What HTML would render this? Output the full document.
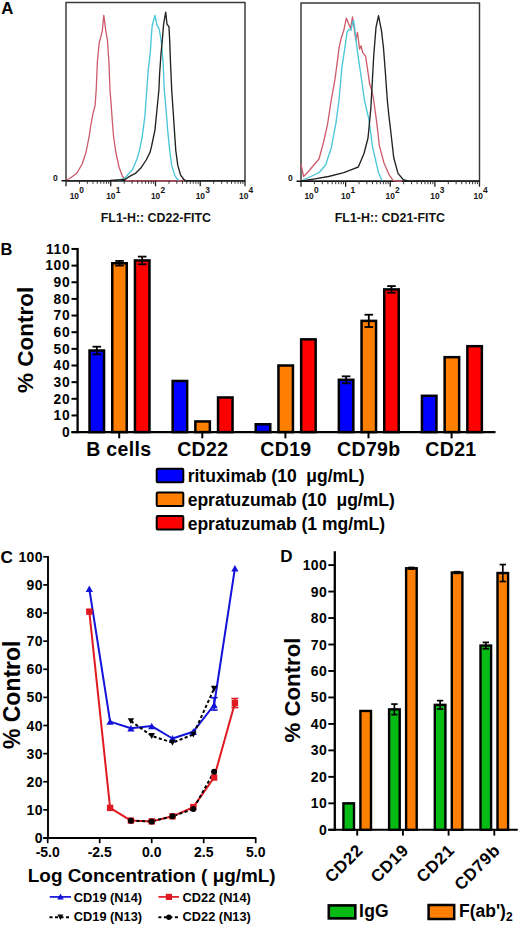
<!DOCTYPE html>
<html><head><meta charset="utf-8"><title>Figure</title>
<style>
html,body{margin:0;padding:0;background:#fff;}
body{width:520px;height:926px;overflow:hidden;}
svg{display:block;font-family:"Liberation Sans", sans-serif;}
</style></head>
<body>
<svg width="520" height="926" viewBox="0 0 520 926" font-family='"Liberation Sans", sans-serif'>
<rect width="520" height="926" fill="#fff"/>
<text x="1.2" y="14.0" font-size="16.8" font-weight="bold">A</text>
<rect x="66" y="2.5" width="179.0" height="178.3" fill="none" stroke="#383838" stroke-width="1.45" stroke-linejoin="round"/>
<line x1="61.5" y1="180.8" x2="245.0" y2="180.8" stroke="#111" stroke-width="1.6"/>
<polyline points="66.0,180.5 70.8,177.7 77.0,173.0 82.3,163.8 86.2,151.5 89.2,136.0 90.8,125.4 93.1,113.0 95.1,105.4 96.2,90.0 97.4,61.5 99.2,43.0 100.8,36.9 102.3,30.8 103.8,15.4 105.8,30.8 107.4,40.0 108.9,61.5 110.0,90.0 111.2,105.4 112.3,120.8 113.5,136.0 115.7,151.5 119.0,167.0 122.3,176.0 126.0,180.3 130.0,180.8 184.0,180.8" fill="none" stroke="#cc5a6a" stroke-width="1.3" stroke-linejoin="round"/>
<polyline points="118.0,180.5 124.6,178.5 130.0,172.1 132.3,170.0 135.4,162.7 137.0,159.0 139.4,150.6 142.1,137.1 144.8,116.9 146.8,90.0 148.2,70.0 150.2,53.8 151.5,33.6 152.2,25.6 154.9,15.5 156.9,24.9 158.9,28.3 160.3,35.0 161.6,44.4 163.0,60.6 164.3,90.0 166.1,110.2 167.7,130.4 169.7,150.6 171.7,165.4 175.1,176.1 178.5,180.5" fill="none" stroke="#4cc6d8" stroke-width="1.35" stroke-linejoin="round"/>
<polyline points="66.0,180.6 110.0,180.5 125.0,179.5 130.0,176.1 135.4,173.4 140.8,168.1 146.2,160.0 150.2,151.9 151.5,146.5 154.9,130.4 156.9,110.2 158.9,90.0 159.6,74.0 161.0,53.8 162.3,40.4 163.6,24.2 165.7,12.1 167.0,24.2 169.0,26.9 169.7,40.4 170.4,60.6 171.7,90.0 173.1,110.2 174.4,130.4 175.8,150.6 177.8,165.4 180.5,174.8 183.8,179.5 186.0,180.6 245.0,180.6" fill="none" stroke="#222222" stroke-width="1.35" stroke-linejoin="round"/>
<line x1="66" y1="180.8" x2="66" y2="186.3" stroke="#222" stroke-width="1.3"/>
<line x1="79.47" y1="180.8" x2="79.47" y2="183.8" stroke="#333" stroke-width="1"/>
<line x1="87.35" y1="180.8" x2="87.35" y2="183.8" stroke="#333" stroke-width="1"/>
<line x1="92.94" y1="180.8" x2="92.94" y2="183.8" stroke="#333" stroke-width="1"/>
<line x1="97.28" y1="180.8" x2="97.28" y2="183.8" stroke="#333" stroke-width="1"/>
<line x1="100.82" y1="180.8" x2="100.82" y2="183.8" stroke="#333" stroke-width="1"/>
<line x1="103.82" y1="180.8" x2="103.82" y2="183.8" stroke="#333" stroke-width="1"/>
<line x1="106.41" y1="180.8" x2="106.41" y2="183.8" stroke="#333" stroke-width="1"/>
<line x1="108.70" y1="180.8" x2="108.70" y2="183.8" stroke="#333" stroke-width="1"/>
<line x1="110.75" y1="180.8" x2="110.75" y2="186.3" stroke="#222" stroke-width="1.3"/>
<line x1="124.22" y1="180.8" x2="124.22" y2="183.8" stroke="#333" stroke-width="1"/>
<line x1="132.10" y1="180.8" x2="132.10" y2="183.8" stroke="#333" stroke-width="1"/>
<line x1="137.69" y1="180.8" x2="137.69" y2="183.8" stroke="#333" stroke-width="1"/>
<line x1="142.03" y1="180.8" x2="142.03" y2="183.8" stroke="#333" stroke-width="1"/>
<line x1="145.57" y1="180.8" x2="145.57" y2="183.8" stroke="#333" stroke-width="1"/>
<line x1="148.57" y1="180.8" x2="148.57" y2="183.8" stroke="#333" stroke-width="1"/>
<line x1="151.16" y1="180.8" x2="151.16" y2="183.8" stroke="#333" stroke-width="1"/>
<line x1="153.45" y1="180.8" x2="153.45" y2="183.8" stroke="#333" stroke-width="1"/>
<line x1="155.50" y1="180.8" x2="155.50" y2="186.3" stroke="#222" stroke-width="1.3"/>
<line x1="168.97" y1="180.8" x2="168.97" y2="183.8" stroke="#333" stroke-width="1"/>
<line x1="176.85" y1="180.8" x2="176.85" y2="183.8" stroke="#333" stroke-width="1"/>
<line x1="182.44" y1="180.8" x2="182.44" y2="183.8" stroke="#333" stroke-width="1"/>
<line x1="186.78" y1="180.8" x2="186.78" y2="183.8" stroke="#333" stroke-width="1"/>
<line x1="190.32" y1="180.8" x2="190.32" y2="183.8" stroke="#333" stroke-width="1"/>
<line x1="193.32" y1="180.8" x2="193.32" y2="183.8" stroke="#333" stroke-width="1"/>
<line x1="195.91" y1="180.8" x2="195.91" y2="183.8" stroke="#333" stroke-width="1"/>
<line x1="198.20" y1="180.8" x2="198.20" y2="183.8" stroke="#333" stroke-width="1"/>
<line x1="200.25" y1="180.8" x2="200.25" y2="186.3" stroke="#222" stroke-width="1.3"/>
<line x1="213.72" y1="180.8" x2="213.72" y2="183.8" stroke="#333" stroke-width="1"/>
<line x1="221.60" y1="180.8" x2="221.60" y2="183.8" stroke="#333" stroke-width="1"/>
<line x1="227.19" y1="180.8" x2="227.19" y2="183.8" stroke="#333" stroke-width="1"/>
<line x1="231.53" y1="180.8" x2="231.53" y2="183.8" stroke="#333" stroke-width="1"/>
<line x1="235.07" y1="180.8" x2="235.07" y2="183.8" stroke="#333" stroke-width="1"/>
<line x1="238.07" y1="180.8" x2="238.07" y2="183.8" stroke="#333" stroke-width="1"/>
<line x1="240.66" y1="180.8" x2="240.66" y2="183.8" stroke="#333" stroke-width="1"/>
<line x1="242.95" y1="180.8" x2="242.95" y2="183.8" stroke="#333" stroke-width="1"/>
<line x1="245.00" y1="180.8" x2="245.00" y2="186.3" stroke="#222" stroke-width="1.3"/>
<text x="69.7" y="198.9" font-size="8.4" font-weight="bold" fill="#151515">10</text>
<text x="79.2" y="192.6" font-size="8.4" font-weight="bold" fill="#151515">0</text>
<text x="106.2" y="198.9" font-size="8.4" font-weight="bold" fill="#151515">10</text>
<text x="115.7" y="192.6" font-size="8.4" font-weight="bold" fill="#151515">1</text>
<text x="150.9" y="198.9" font-size="8.4" font-weight="bold" fill="#151515">10</text>
<text x="160.4" y="192.6" font-size="8.4" font-weight="bold" fill="#151515">2</text>
<text x="195.7" y="198.9" font-size="8.4" font-weight="bold" fill="#151515">10</text>
<text x="205.2" y="192.6" font-size="8.4" font-weight="bold" fill="#151515">3</text>
<text x="239.1" y="198.9" font-size="8.4" font-weight="bold" fill="#151515">10</text>
<text x="248.6" y="192.6" font-size="8.4" font-weight="bold" fill="#151515">4</text>
<text x="52.9" y="180.9" font-size="8.5" font-weight="bold" fill="#151515">0</text>
<text x="100.8" y="221.5" font-size="12.4" font-weight="bold" fill="#111">FL1-H:: CD22-FITC</text>
<rect x="301" y="2.9" width="178.5" height="178.29999999999998" fill="none" stroke="#383838" stroke-width="1.45" stroke-linejoin="round"/>
<line x1="296.5" y1="181.2" x2="479.5" y2="181.2" stroke="#111" stroke-width="1.6"/>
<polyline points="301.0,164.0 303.5,176.5 308.0,172.0 313.0,166.0 319.0,159.0 323.6,142.0 327.5,124.6 331.0,101.5 335.0,79.2 337.3,61.9 339.0,48.1 341.3,37.7 343.7,30.8 346.3,18.1 350.6,28.5 352.5,16.9 355.8,40.0 357.5,32.5 359.6,49.2 361.0,45.8 362.7,52.7 365.6,56.2 367.3,67.7 369.6,83.8 371.9,90.8 373.7,100.0 376.5,120.8 379.4,145.8 384.0,163.0 389.0,174.6 393.0,180.3 396.0,181.2 402.0,181.2" fill="none" stroke="#cc5a6a" stroke-width="1.3" stroke-linejoin="round"/>
<polyline points="303.0,180.0 305.0,179.0 312.0,176.0 319.0,172.7 325.6,165.0 331.3,147.7 336.0,122.7 339.0,100.0 341.9,67.7 344.8,48.1 347.1,31.9 348.8,29.6 350.9,30.2 352.3,23.8 353.5,20.4 354.6,27.3 356.3,42.3 358.1,56.2 359.8,67.7 361.5,79.2 364.4,100.0 368.8,118.8 372.7,147.7 378.5,172.7 382.0,180.5" fill="none" stroke="#4cc6d8" stroke-width="1.35" stroke-linejoin="round"/>
<polyline points="301.0,181.0 305.0,180.5 315.0,178.8 328.5,176.5 343.8,172.7 353.5,168.8 358.3,167.0 364.0,153.5 368.0,138.0 370.8,109.0 373.7,56.2 376.0,27.3 378.5,15.6 381.5,30.8 383.5,48.0 385.4,73.0 387.3,100.0 388.8,115.0 390.6,130.0 393.7,157.5 398.0,173.4 403.3,179.7 408.0,181.0 479.5,181.2" fill="none" stroke="#222222" stroke-width="1.35" stroke-linejoin="round"/>
<line x1="301" y1="181.2" x2="301" y2="186.7" stroke="#222" stroke-width="1.3"/>
<line x1="314.43" y1="181.2" x2="314.43" y2="184.2" stroke="#333" stroke-width="1"/>
<line x1="322.29" y1="181.2" x2="322.29" y2="184.2" stroke="#333" stroke-width="1"/>
<line x1="327.87" y1="181.2" x2="327.87" y2="184.2" stroke="#333" stroke-width="1"/>
<line x1="332.19" y1="181.2" x2="332.19" y2="184.2" stroke="#333" stroke-width="1"/>
<line x1="335.72" y1="181.2" x2="335.72" y2="184.2" stroke="#333" stroke-width="1"/>
<line x1="338.71" y1="181.2" x2="338.71" y2="184.2" stroke="#333" stroke-width="1"/>
<line x1="341.30" y1="181.2" x2="341.30" y2="184.2" stroke="#333" stroke-width="1"/>
<line x1="343.58" y1="181.2" x2="343.58" y2="184.2" stroke="#333" stroke-width="1"/>
<line x1="345.62" y1="181.2" x2="345.62" y2="186.7" stroke="#222" stroke-width="1.3"/>
<line x1="359.06" y1="181.2" x2="359.06" y2="184.2" stroke="#333" stroke-width="1"/>
<line x1="366.92" y1="181.2" x2="366.92" y2="184.2" stroke="#333" stroke-width="1"/>
<line x1="372.49" y1="181.2" x2="372.49" y2="184.2" stroke="#333" stroke-width="1"/>
<line x1="376.82" y1="181.2" x2="376.82" y2="184.2" stroke="#333" stroke-width="1"/>
<line x1="380.35" y1="181.2" x2="380.35" y2="184.2" stroke="#333" stroke-width="1"/>
<line x1="383.34" y1="181.2" x2="383.34" y2="184.2" stroke="#333" stroke-width="1"/>
<line x1="385.93" y1="181.2" x2="385.93" y2="184.2" stroke="#333" stroke-width="1"/>
<line x1="388.21" y1="181.2" x2="388.21" y2="184.2" stroke="#333" stroke-width="1"/>
<line x1="390.25" y1="181.2" x2="390.25" y2="186.7" stroke="#222" stroke-width="1.3"/>
<line x1="403.68" y1="181.2" x2="403.68" y2="184.2" stroke="#333" stroke-width="1"/>
<line x1="411.54" y1="181.2" x2="411.54" y2="184.2" stroke="#333" stroke-width="1"/>
<line x1="417.12" y1="181.2" x2="417.12" y2="184.2" stroke="#333" stroke-width="1"/>
<line x1="421.44" y1="181.2" x2="421.44" y2="184.2" stroke="#333" stroke-width="1"/>
<line x1="424.97" y1="181.2" x2="424.97" y2="184.2" stroke="#333" stroke-width="1"/>
<line x1="427.96" y1="181.2" x2="427.96" y2="184.2" stroke="#333" stroke-width="1"/>
<line x1="430.55" y1="181.2" x2="430.55" y2="184.2" stroke="#333" stroke-width="1"/>
<line x1="432.83" y1="181.2" x2="432.83" y2="184.2" stroke="#333" stroke-width="1"/>
<line x1="434.88" y1="181.2" x2="434.88" y2="186.7" stroke="#222" stroke-width="1.3"/>
<line x1="448.31" y1="181.2" x2="448.31" y2="184.2" stroke="#333" stroke-width="1"/>
<line x1="456.17" y1="181.2" x2="456.17" y2="184.2" stroke="#333" stroke-width="1"/>
<line x1="461.74" y1="181.2" x2="461.74" y2="184.2" stroke="#333" stroke-width="1"/>
<line x1="466.07" y1="181.2" x2="466.07" y2="184.2" stroke="#333" stroke-width="1"/>
<line x1="469.60" y1="181.2" x2="469.60" y2="184.2" stroke="#333" stroke-width="1"/>
<line x1="472.59" y1="181.2" x2="472.59" y2="184.2" stroke="#333" stroke-width="1"/>
<line x1="475.18" y1="181.2" x2="475.18" y2="184.2" stroke="#333" stroke-width="1"/>
<line x1="477.46" y1="181.2" x2="477.46" y2="184.2" stroke="#333" stroke-width="1"/>
<line x1="479.50" y1="181.2" x2="479.50" y2="186.7" stroke="#222" stroke-width="1.3"/>
<text x="304.4" y="198.9" font-size="8.4" font-weight="bold" fill="#151515">10</text>
<text x="313.9" y="192.6" font-size="8.4" font-weight="bold" fill="#151515">0</text>
<text x="341.0" y="198.9" font-size="8.4" font-weight="bold" fill="#151515">10</text>
<text x="350.5" y="192.6" font-size="8.4" font-weight="bold" fill="#151515">1</text>
<text x="385.6" y="198.9" font-size="8.4" font-weight="bold" fill="#151515">10</text>
<text x="395.1" y="192.6" font-size="8.4" font-weight="bold" fill="#151515">2</text>
<text x="430.3" y="198.9" font-size="8.4" font-weight="bold" fill="#151515">10</text>
<text x="439.8" y="192.6" font-size="8.4" font-weight="bold" fill="#151515">3</text>
<text x="473.6" y="198.9" font-size="8.4" font-weight="bold" fill="#151515">10</text>
<text x="483.1" y="192.6" font-size="8.4" font-weight="bold" fill="#151515">4</text>
<text x="288.0" y="180.9" font-size="8.5" font-weight="bold" fill="#151515">0</text>
<text x="334.8" y="221.5" font-size="12.4" font-weight="bold" fill="#111">FL1-H:: CD21-FITC</text>
<text x="0.4" y="255.2" font-size="16.5" font-weight="bold">B</text>
<line x1="77.6" y1="247.95" x2="77.6" y2="433.20000000000005" stroke="#000" stroke-width="2.3"/>
<line x1="71.5" y1="432.1" x2="495.5" y2="432.1" stroke="#000" stroke-width="2.3"/>
<line x1="71.5" y1="432.10" x2="77.6" y2="432.10" stroke="#000" stroke-width="2.0"/>
<text x="70.3" y="436.90" font-size="13.8" font-weight="bold" letter-spacing="0.7" text-anchor="end">0</text>
<line x1="71.5" y1="415.45" x2="77.6" y2="415.45" stroke="#000" stroke-width="2.0"/>
<text x="70.3" y="420.25" font-size="13.8" font-weight="bold" letter-spacing="0.7" text-anchor="end">10</text>
<line x1="71.5" y1="398.80" x2="77.6" y2="398.80" stroke="#000" stroke-width="2.0"/>
<text x="70.3" y="403.60" font-size="13.8" font-weight="bold" letter-spacing="0.7" text-anchor="end">20</text>
<line x1="71.5" y1="382.15" x2="77.6" y2="382.15" stroke="#000" stroke-width="2.0"/>
<text x="70.3" y="386.95" font-size="13.8" font-weight="bold" letter-spacing="0.7" text-anchor="end">30</text>
<line x1="71.5" y1="365.50" x2="77.6" y2="365.50" stroke="#000" stroke-width="2.0"/>
<text x="70.3" y="370.30" font-size="13.8" font-weight="bold" letter-spacing="0.7" text-anchor="end">40</text>
<line x1="71.5" y1="348.85" x2="77.6" y2="348.85" stroke="#000" stroke-width="2.0"/>
<text x="70.3" y="353.65" font-size="13.8" font-weight="bold" letter-spacing="0.7" text-anchor="end">50</text>
<line x1="71.5" y1="332.20" x2="77.6" y2="332.20" stroke="#000" stroke-width="2.0"/>
<text x="70.3" y="337.00" font-size="13.8" font-weight="bold" letter-spacing="0.7" text-anchor="end">60</text>
<line x1="71.5" y1="315.55" x2="77.6" y2="315.55" stroke="#000" stroke-width="2.0"/>
<text x="70.3" y="320.35" font-size="13.8" font-weight="bold" letter-spacing="0.7" text-anchor="end">70</text>
<line x1="71.5" y1="298.90" x2="77.6" y2="298.90" stroke="#000" stroke-width="2.0"/>
<text x="70.3" y="303.70" font-size="13.8" font-weight="bold" letter-spacing="0.7" text-anchor="end">80</text>
<line x1="71.5" y1="282.25" x2="77.6" y2="282.25" stroke="#000" stroke-width="2.0"/>
<text x="70.3" y="287.05" font-size="13.8" font-weight="bold" letter-spacing="0.7" text-anchor="end">90</text>
<line x1="71.5" y1="265.60" x2="77.6" y2="265.60" stroke="#000" stroke-width="2.0"/>
<text x="70.3" y="270.40" font-size="13.8" font-weight="bold" letter-spacing="0.7" text-anchor="end">100</text>
<line x1="71.5" y1="248.95" x2="77.6" y2="248.95" stroke="#000" stroke-width="2.0"/>
<text x="70.3" y="253.75" font-size="13.8" font-weight="bold" letter-spacing="0.7" text-anchor="end">110</text>
<text transform="translate(33.4,339.8) rotate(-90)" x="0" y="0" font-size="22.5" font-weight="bold" text-anchor="middle">% Control</text>
<line x1="119.2" y1="432.1" x2="119.2" y2="438.3" stroke="#000" stroke-width="2.0"/>
<text x="118.80" y="455.6" font-size="19.5" font-weight="bold" letter-spacing="0.35" text-anchor="middle">B cells</text>
<rect x="89.55" y="350.51" width="14.5" height="81.59" fill="#0000ff" stroke="#000" stroke-width="2.5"/>
<line x1="96.80000000000001" y1="346.69" x2="96.80000000000001" y2="354.34" stroke="#000" stroke-width="1.8"/>
<line x1="92.50" y1="346.69" x2="101.10" y2="346.69" stroke="#000" stroke-width="1.8"/>
<line x1="92.50" y1="354.34" x2="101.10" y2="354.34" stroke="#000" stroke-width="1.8"/>
<rect x="112.25" y="263.27" width="14.5" height="168.83" fill="#ff8000" stroke="#000" stroke-width="2.5"/>
<line x1="119.5" y1="260.94" x2="119.5" y2="265.60" stroke="#000" stroke-width="1.8"/>
<line x1="115.20" y1="260.94" x2="123.80" y2="260.94" stroke="#000" stroke-width="1.8"/>
<line x1="115.20" y1="265.60" x2="123.80" y2="265.60" stroke="#000" stroke-width="1.8"/>
<rect x="134.95" y="260.44" width="14.5" height="171.66" fill="#ff0000" stroke="#000" stroke-width="2.5"/>
<line x1="142.2" y1="256.61" x2="142.2" y2="264.27" stroke="#000" stroke-width="1.8"/>
<line x1="137.90" y1="256.61" x2="146.50" y2="256.61" stroke="#000" stroke-width="1.8"/>
<line x1="137.90" y1="264.27" x2="146.50" y2="264.27" stroke="#000" stroke-width="1.8"/>
<line x1="202.3" y1="432.1" x2="202.3" y2="438.3" stroke="#000" stroke-width="2.0"/>
<text x="202.80" y="455.6" font-size="19.5" font-weight="bold" letter-spacing="0.35" text-anchor="middle">CD22</text>
<rect x="172.65" y="380.98" width="14.5" height="51.12" fill="#0000ff" stroke="#000" stroke-width="2.5"/>
<rect x="195.35" y="421.44" width="14.5" height="10.66" fill="#ff8000" stroke="#000" stroke-width="2.5"/>
<rect x="218.05" y="397.47" width="14.5" height="34.63" fill="#ff0000" stroke="#000" stroke-width="2.5"/>
<line x1="285.4" y1="432.1" x2="285.4" y2="438.3" stroke="#000" stroke-width="2.0"/>
<text x="285.90" y="455.6" font-size="19.5" font-weight="bold" letter-spacing="0.35" text-anchor="middle">CD19</text>
<rect x="255.75" y="424.27" width="14.5" height="7.83" fill="#0000ff" stroke="#000" stroke-width="2.5"/>
<rect x="278.45" y="365.50" width="14.5" height="66.60" fill="#ff8000" stroke="#000" stroke-width="2.5"/>
<rect x="301.15" y="339.36" width="14.5" height="92.74" fill="#ff0000" stroke="#000" stroke-width="2.5"/>
<line x1="368.5" y1="432.1" x2="368.5" y2="438.3" stroke="#000" stroke-width="2.0"/>
<text x="368.80" y="455.6" font-size="19.5" font-weight="bold" letter-spacing="0.35" text-anchor="middle">CD79b</text>
<rect x="338.85" y="379.82" width="14.5" height="52.28" fill="#0000ff" stroke="#000" stroke-width="2.5"/>
<line x1="346.1" y1="376.32" x2="346.1" y2="383.32" stroke="#000" stroke-width="1.8"/>
<line x1="341.80" y1="376.32" x2="350.40" y2="376.32" stroke="#000" stroke-width="1.8"/>
<line x1="341.80" y1="383.32" x2="350.40" y2="383.32" stroke="#000" stroke-width="1.8"/>
<rect x="361.55" y="320.88" width="14.5" height="111.22" fill="#ff8000" stroke="#000" stroke-width="2.5"/>
<line x1="368.8" y1="314.72" x2="368.8" y2="327.04" stroke="#000" stroke-width="1.8"/>
<line x1="364.50" y1="314.72" x2="373.10" y2="314.72" stroke="#000" stroke-width="1.8"/>
<line x1="364.50" y1="327.04" x2="373.10" y2="327.04" stroke="#000" stroke-width="1.8"/>
<rect x="384.25" y="289.41" width="14.5" height="142.69" fill="#ff0000" stroke="#000" stroke-width="2.5"/>
<line x1="391.5" y1="286.08" x2="391.5" y2="292.74" stroke="#000" stroke-width="1.8"/>
<line x1="387.20" y1="286.08" x2="395.80" y2="286.08" stroke="#000" stroke-width="1.8"/>
<line x1="387.20" y1="292.74" x2="395.80" y2="292.74" stroke="#000" stroke-width="1.8"/>
<line x1="451.6" y1="432.1" x2="451.6" y2="438.3" stroke="#000" stroke-width="2.0"/>
<text x="450.90" y="455.6" font-size="19.5" font-weight="bold" letter-spacing="0.35" text-anchor="middle">CD21</text>
<rect x="421.95" y="395.80" width="14.5" height="36.30" fill="#0000ff" stroke="#000" stroke-width="2.5"/>
<rect x="444.65" y="357.18" width="14.5" height="74.93" fill="#ff8000" stroke="#000" stroke-width="2.5"/>
<rect x="467.35" y="346.19" width="14.5" height="85.91" fill="#ff0000" stroke="#000" stroke-width="2.5"/>
<rect x="156.7" y="468.80" width="26.6" height="13.4" rx="1" fill="#0000ff" stroke="#000" stroke-width="2.0"/>
<text x="187.7" y="481.90" font-size="17.5" font-weight="bold">rituximab (10 &#160;&#956;g/mL)</text>
<rect x="156.7" y="492.60" width="26.6" height="13.4" rx="1" fill="#ff8000" stroke="#000" stroke-width="2.0"/>
<text x="187.7" y="506.00" font-size="17.5" font-weight="bold">epratuzumab (10 &#160;&#956;g/mL)</text>
<rect x="156.7" y="516.00" width="26.6" height="13.4" rx="1" fill="#ff0000" stroke="#000" stroke-width="2.0"/>
<text x="187.7" y="529.60" font-size="17.5" font-weight="bold">epratuzumab (1 mg/mL)</text>
<text x="0.5" y="563" font-size="17.2" font-weight="bold">C</text>
<line x1="48" y1="555.90" x2="48" y2="838.9" stroke="#000" stroke-width="1.9"/>
<line x1="43.3" y1="838.0" x2="256.3" y2="838.0" stroke="#000" stroke-width="1.9"/>
<line x1="43.3" y1="838.00" x2="48" y2="838.00" stroke="#000" stroke-width="1.7"/>
<text x="42.8" y="843.00" font-size="14" font-weight="bold" letter-spacing="0.3" text-anchor="end">0</text>
<line x1="43.3" y1="809.88" x2="48" y2="809.88" stroke="#000" stroke-width="1.7"/>
<text x="42.8" y="814.88" font-size="14" font-weight="bold" letter-spacing="0.3" text-anchor="end">10</text>
<line x1="43.3" y1="781.76" x2="48" y2="781.76" stroke="#000" stroke-width="1.7"/>
<text x="42.8" y="786.76" font-size="14" font-weight="bold" letter-spacing="0.3" text-anchor="end">20</text>
<line x1="43.3" y1="753.64" x2="48" y2="753.64" stroke="#000" stroke-width="1.7"/>
<text x="42.8" y="758.64" font-size="14" font-weight="bold" letter-spacing="0.3" text-anchor="end">30</text>
<line x1="43.3" y1="725.52" x2="48" y2="725.52" stroke="#000" stroke-width="1.7"/>
<text x="42.8" y="730.52" font-size="14" font-weight="bold" letter-spacing="0.3" text-anchor="end">40</text>
<line x1="43.3" y1="697.40" x2="48" y2="697.40" stroke="#000" stroke-width="1.7"/>
<text x="42.8" y="702.40" font-size="14" font-weight="bold" letter-spacing="0.3" text-anchor="end">50</text>
<line x1="43.3" y1="669.28" x2="48" y2="669.28" stroke="#000" stroke-width="1.7"/>
<text x="42.8" y="674.28" font-size="14" font-weight="bold" letter-spacing="0.3" text-anchor="end">60</text>
<line x1="43.3" y1="641.16" x2="48" y2="641.16" stroke="#000" stroke-width="1.7"/>
<text x="42.8" y="646.16" font-size="14" font-weight="bold" letter-spacing="0.3" text-anchor="end">70</text>
<line x1="43.3" y1="613.04" x2="48" y2="613.04" stroke="#000" stroke-width="1.7"/>
<text x="42.8" y="618.04" font-size="14" font-weight="bold" letter-spacing="0.3" text-anchor="end">80</text>
<line x1="43.3" y1="584.92" x2="48" y2="584.92" stroke="#000" stroke-width="1.7"/>
<text x="42.8" y="589.92" font-size="14" font-weight="bold" letter-spacing="0.3" text-anchor="end">90</text>
<line x1="43.3" y1="556.80" x2="48" y2="556.80" stroke="#000" stroke-width="1.7"/>
<text x="42.8" y="561.80" font-size="14" font-weight="bold" letter-spacing="0.3" text-anchor="end">100</text>
<line x1="47.70" y1="838.0" x2="47.70" y2="843.2" stroke="#000" stroke-width="1.7"/>
<text x="47.70" y="857.3" font-size="14" font-weight="bold" text-anchor="middle">-5.0</text>
<line x1="99.70" y1="838.0" x2="99.70" y2="843.2" stroke="#000" stroke-width="1.7"/>
<text x="99.70" y="857.3" font-size="14" font-weight="bold" text-anchor="middle">-2.5</text>
<line x1="151.70" y1="838.0" x2="151.70" y2="843.2" stroke="#000" stroke-width="1.7"/>
<text x="151.70" y="857.3" font-size="14" font-weight="bold" text-anchor="middle">0.0</text>
<line x1="203.70" y1="838.0" x2="203.70" y2="843.2" stroke="#000" stroke-width="1.7"/>
<text x="203.70" y="857.3" font-size="14" font-weight="bold" text-anchor="middle">2.5</text>
<line x1="255.70" y1="838.0" x2="255.70" y2="843.2" stroke="#000" stroke-width="1.7"/>
<text x="255.70" y="857.3" font-size="14" font-weight="bold" text-anchor="middle">5.0</text>
<text transform="translate(19.8,694.8) rotate(-90)" font-size="23" font-weight="bold" text-anchor="middle">% Control</text>
<text x="27.8" y="882.2" font-size="18.92" font-weight="bold">Log Concentration ( &#956;g/mL)</text>
<polyline points="89.3,588.9 110.1,721.6 130.9,728.3 151.7,726.1 172.5,738.5 193.3,731.7 214.1,705.0 234.9,568.3" fill="none" stroke="#1212d8" stroke-width="2" stroke-linejoin="round"/>
<polyline points="89.3,611.6 110.1,807.9 130.9,820.6 151.7,821.4 172.5,816.3 193.3,807.1 214.1,777.5 234.9,703.0" fill="none" stroke="#e01a22" stroke-width="2" stroke-linejoin="round"/>
<polyline points="130.9,721.0 151.7,735.9 172.5,742.7 193.3,734.5 214.1,688.7" fill="none" stroke="#000" stroke-width="2" stroke-dasharray="3.2,2.3"/>
<polyline points="130.9,820.8 151.7,821.4 172.5,816.3 193.3,809.0 214.1,771.6" fill="none" stroke="#000" stroke-width="2" stroke-dasharray="3.2,2.3"/>
<polygon points="85.70,592.10 92.90,592.10 89.30,585.44" fill="#1212d8"/>
<polygon points="106.50,724.82 113.70,724.82 110.10,718.16" fill="#1212d8"/>
<polygon points="127.30,731.57 134.50,731.57 130.90,724.91" fill="#1212d8"/>
<polygon points="148.10,729.32 155.30,729.32 151.70,722.66" fill="#1212d8"/>
<polygon points="168.90,741.70 176.10,741.70 172.50,735.04" fill="#1212d8"/>
<polygon points="189.70,734.95 196.90,734.95 193.30,728.29" fill="#1212d8"/>
<polygon points="210.50,708.23 217.70,708.23 214.10,701.57" fill="#1212d8"/>
<polygon points="231.30,571.57 238.50,571.57 234.90,564.91" fill="#1212d8"/>
<rect x="86.10" y="608.43" width="6.40" height="6.40" fill="#e01a22"/>
<rect x="106.90" y="804.71" width="6.40" height="6.40" fill="#e01a22"/>
<rect x="127.70" y="817.37" width="6.40" height="6.40" fill="#e01a22"/>
<rect x="148.50" y="818.21" width="6.40" height="6.40" fill="#e01a22"/>
<rect x="169.30" y="813.15" width="6.40" height="6.40" fill="#e01a22"/>
<rect x="190.10" y="803.87" width="6.40" height="6.40" fill="#e01a22"/>
<rect x="210.90" y="774.34" width="6.40" height="6.40" fill="#e01a22"/>
<rect x="231.70" y="699.82" width="6.40" height="6.40" fill="#e01a22"/>
<polygon points="127.70,718.14 134.10,718.14 130.90,724.06" fill="#000"/>
<polygon points="148.50,733.04 154.90,733.04 151.70,738.96" fill="#000"/>
<polygon points="169.30,739.79 175.70,739.79 172.50,745.71" fill="#000"/>
<polygon points="190.10,731.64 196.50,731.64 193.30,737.56" fill="#000"/>
<polygon points="210.90,685.80 217.30,685.80 214.10,691.72" fill="#000"/>
<circle cx="130.90" cy="820.85" r="3" fill="#000"/>
<circle cx="151.70" cy="821.41" r="3" fill="#000"/>
<circle cx="172.50" cy="816.35" r="3" fill="#000"/>
<circle cx="193.30" cy="809.04" r="3" fill="#000"/>
<circle cx="214.10" cy="771.64" r="3" fill="#000"/>
<line x1="214.10" y1="697.68" x2="214.10" y2="710.05" stroke="#1212d8" stroke-width="1.6"/><line x1="210.60" y1="697.68" x2="217.60" y2="697.68" stroke="#1212d8" stroke-width="1.6"/><line x1="210.60" y1="710.05" x2="217.60" y2="710.05" stroke="#1212d8" stroke-width="1.6"/>
<line x1="234.90" y1="698.52" x2="234.90" y2="707.52" stroke="#e01a22" stroke-width="1.6"/><line x1="231.40" y1="698.52" x2="238.40" y2="698.52" stroke="#e01a22" stroke-width="1.6"/><line x1="231.40" y1="707.52" x2="238.40" y2="707.52" stroke="#e01a22" stroke-width="1.6"/>
<line x1="49.8" y1="896.9" x2="71" y2="896.9" stroke="#1212d8" stroke-width="1.7"/>
<polygon points="57.20,899.57 63.80,899.57 60.50,893.47" fill="#1212d8"/>
<text x="73.8" y="901.6" font-size="12.8" font-weight="bold">CD19 (N14)</text>
<line x1="158.4" y1="896.9" x2="179.0" y2="896.9" stroke="#e01a22" stroke-width="1.7"/>
<rect x="165.80" y="893.80" width="6.20" height="6.20" fill="#e01a22"/>
<text x="182.6" y="901.6" font-size="12.8" font-weight="bold">CD22 (N14)</text>
<line x1="49.5" y1="917.2" x2="71.3" y2="917.2" stroke="#000" stroke-width="2" stroke-dasharray="3,2.5"/>
<polygon points="57.40,914.50 63.40,914.50 60.40,920.05" fill="#000"/>
<text x="73.8" y="921.4" font-size="12.8" font-weight="bold">CD19 (N13)</text>
<line x1="158.4" y1="917.2" x2="179.0" y2="917.2" stroke="#000" stroke-width="2" stroke-dasharray="3,2.5"/>
<circle cx="168.9" cy="917.2" r="2.7" fill="#000"/>
<text x="182.6" y="921.4" font-size="12.8" font-weight="bold">CD22 (N13)</text>
<text x="280.3" y="562.3" font-size="17" font-weight="bold">D</text>
<line x1="334.8" y1="551.2" x2="334.8" y2="830.9" stroke="#000" stroke-width="2.3"/>
<line x1="328.3" y1="829.8" x2="517.8" y2="829.8" stroke="#000" stroke-width="2.1"/>
<line x1="328.3" y1="829.80" x2="334.8" y2="829.80" stroke="#000" stroke-width="1.9"/>
<text x="327.0" y="834.80" font-size="14" font-weight="bold" letter-spacing="0.3" text-anchor="end">0</text>
<line x1="328.3" y1="803.33" x2="334.8" y2="803.33" stroke="#000" stroke-width="1.9"/>
<text x="327.0" y="808.33" font-size="14" font-weight="bold" letter-spacing="0.3" text-anchor="end">10</text>
<line x1="328.3" y1="776.86" x2="334.8" y2="776.86" stroke="#000" stroke-width="1.9"/>
<text x="327.0" y="781.86" font-size="14" font-weight="bold" letter-spacing="0.3" text-anchor="end">20</text>
<line x1="328.3" y1="750.39" x2="334.8" y2="750.39" stroke="#000" stroke-width="1.9"/>
<text x="327.0" y="755.39" font-size="14" font-weight="bold" letter-spacing="0.3" text-anchor="end">30</text>
<line x1="328.3" y1="723.92" x2="334.8" y2="723.92" stroke="#000" stroke-width="1.9"/>
<text x="327.0" y="728.92" font-size="14" font-weight="bold" letter-spacing="0.3" text-anchor="end">40</text>
<line x1="328.3" y1="697.45" x2="334.8" y2="697.45" stroke="#000" stroke-width="1.9"/>
<text x="327.0" y="702.45" font-size="14" font-weight="bold" letter-spacing="0.3" text-anchor="end">50</text>
<line x1="328.3" y1="670.98" x2="334.8" y2="670.98" stroke="#000" stroke-width="1.9"/>
<text x="327.0" y="675.98" font-size="14" font-weight="bold" letter-spacing="0.3" text-anchor="end">60</text>
<line x1="328.3" y1="644.51" x2="334.8" y2="644.51" stroke="#000" stroke-width="1.9"/>
<text x="327.0" y="649.51" font-size="14" font-weight="bold" letter-spacing="0.3" text-anchor="end">70</text>
<line x1="328.3" y1="618.04" x2="334.8" y2="618.04" stroke="#000" stroke-width="1.9"/>
<text x="327.0" y="623.04" font-size="14" font-weight="bold" letter-spacing="0.3" text-anchor="end">80</text>
<line x1="328.3" y1="591.57" x2="334.8" y2="591.57" stroke="#000" stroke-width="1.9"/>
<text x="327.0" y="596.57" font-size="14" font-weight="bold" letter-spacing="0.3" text-anchor="end">90</text>
<line x1="328.3" y1="565.10" x2="334.8" y2="565.10" stroke="#000" stroke-width="1.9"/>
<text x="327.0" y="570.10" font-size="14" font-weight="bold" letter-spacing="0.3" text-anchor="end">100</text>
<text transform="translate(299.6,690) rotate(-90)" font-size="22.2" font-weight="bold" text-anchor="middle">% Control</text>
<line x1="357.2" y1="829.8" x2="357.2" y2="835.6" stroke="#000" stroke-width="1.9"/>
<rect x="343.40" y="803.33" width="10.6" height="26.47" fill="#06bc14" stroke="#000" stroke-width="2.4"/>
<rect x="360.40" y="710.95" width="10.6" height="118.85" fill="#ff8000" stroke="#000" stroke-width="2.4"/>
<text transform="translate(364.1,851.2) rotate(-45)" font-size="16.8" font-weight="bold" letter-spacing="0.7" text-anchor="end">CD22</text>
<line x1="402.9" y1="829.8" x2="402.9" y2="835.6" stroke="#000" stroke-width="1.9"/>
<rect x="389.10" y="709.36" width="10.6" height="120.44" fill="#06bc14" stroke="#000" stroke-width="2.4"/>
<line x1="394.40" y1="704.07" x2="394.40" y2="714.66" stroke="#000" stroke-width="1.7"/><line x1="391.20" y1="704.07" x2="397.60" y2="704.07" stroke="#000" stroke-width="1.7"/><line x1="391.20" y1="714.66" x2="397.60" y2="714.66" stroke="#000" stroke-width="1.7"/>
<rect x="406.10" y="568.28" width="10.6" height="261.52" fill="#ff8000" stroke="#000" stroke-width="2.4"/>
<line x1="411.40" y1="567.48" x2="411.40" y2="569.07" stroke="#000" stroke-width="1.7"/><line x1="408.20" y1="567.48" x2="414.60" y2="567.48" stroke="#000" stroke-width="1.7"/><line x1="408.20" y1="569.07" x2="414.60" y2="569.07" stroke="#000" stroke-width="1.7"/>
<text transform="translate(409.8,851.2) rotate(-45)" font-size="16.8" font-weight="bold" letter-spacing="0.7" text-anchor="end">CD19</text>
<line x1="448.6" y1="829.8" x2="448.6" y2="835.6" stroke="#000" stroke-width="1.9"/>
<rect x="434.80" y="704.86" width="10.6" height="124.94" fill="#06bc14" stroke="#000" stroke-width="2.4"/>
<line x1="440.10" y1="700.63" x2="440.10" y2="709.10" stroke="#000" stroke-width="1.7"/><line x1="436.90" y1="700.63" x2="443.30" y2="700.63" stroke="#000" stroke-width="1.7"/><line x1="436.90" y1="709.10" x2="443.30" y2="709.10" stroke="#000" stroke-width="1.7"/>
<rect x="451.80" y="572.51" width="10.6" height="257.29" fill="#ff8000" stroke="#000" stroke-width="2.4"/>
<line x1="457.10" y1="571.72" x2="457.10" y2="573.31" stroke="#000" stroke-width="1.7"/><line x1="453.90" y1="571.72" x2="460.30" y2="571.72" stroke="#000" stroke-width="1.7"/><line x1="453.90" y1="573.31" x2="460.30" y2="573.31" stroke="#000" stroke-width="1.7"/>
<text transform="translate(455.5,851.2) rotate(-45)" font-size="16.8" font-weight="bold" letter-spacing="0.7" text-anchor="end">CD21</text>
<line x1="494.3" y1="829.8" x2="494.3" y2="835.6" stroke="#000" stroke-width="1.9"/>
<rect x="480.50" y="645.57" width="10.6" height="184.23" fill="#06bc14" stroke="#000" stroke-width="2.4"/>
<line x1="485.80" y1="642.39" x2="485.80" y2="648.75" stroke="#000" stroke-width="1.7"/><line x1="482.60" y1="642.39" x2="489.00" y2="642.39" stroke="#000" stroke-width="1.7"/><line x1="482.60" y1="648.75" x2="489.00" y2="648.75" stroke="#000" stroke-width="1.7"/>
<rect x="497.50" y="573.04" width="10.6" height="256.76" fill="#ff8000" stroke="#000" stroke-width="2.4"/>
<line x1="502.80" y1="564.57" x2="502.80" y2="581.51" stroke="#000" stroke-width="1.7"/><line x1="499.60" y1="564.57" x2="506.00" y2="564.57" stroke="#000" stroke-width="1.7"/><line x1="499.60" y1="581.51" x2="506.00" y2="581.51" stroke="#000" stroke-width="1.7"/>
<text transform="translate(501.2,851.2) rotate(-45)" font-size="16.8" font-weight="bold" letter-spacing="0.7" text-anchor="end">CD79b</text>
<rect x="328.8" y="905.4" width="26.5" height="13.0" fill="#06bc14" stroke="#000" stroke-width="2.6"/>
<text x="359.1" y="917.2" font-size="17.5" font-weight="bold" letter-spacing="0.2">IgG</text>
<rect x="428.6" y="905" width="25.6" height="14" fill="#ff8000" stroke="#000" stroke-width="2.5"/>
<text x="459" y="917.3" font-size="17.5" font-weight="bold">F(ab')<tspan font-size="12" dy="3.5">2</tspan></text>
</svg>
</body></html>
